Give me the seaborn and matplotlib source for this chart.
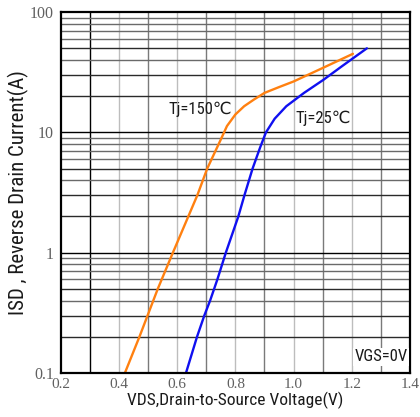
import pandas as pd
import matplotlib
matplotlib.use("Agg")
import matplotlib.pyplot as plt
from matplotlib import font_manager
import seaborn as sns

# Body-diode forward characteristic, VSD (V) vs ISD (A)
vsd_150 = [0.42, 0.47, 0.533, 0.585, 0.638, 0.669, 0.703, 0.75, 0.771, 0.8, 0.83, 0.863, 0.9, 0.95, 1.0, 1.1, 1.204]
isd_150 = [0.1, 0.2, 0.5, 1.0, 2.0, 3.0, 5.0, 8.75, 11.3, 14.1, 16.5, 18.7, 21.3, 23.8, 26.5, 34.3, 45.0]

vsd_25 = [0.63, 0.668, 0.693, 0.713, 0.738, 0.767, 0.81, 0.831, 0.859, 0.885, 0.905, 0.935, 0.975, 1.036, 1.103, 1.165, 1.252]
isd_25 = [0.1, 0.2, 0.3, 0.4, 0.6, 1.0, 2.0, 3.0, 5.0, 7.5, 10.0, 13.0, 16.5, 21.3, 27.4, 35.3, 50.0]

x_ticks = [0.2, 0.4, 0.6, 0.8, 1.0, 1.2, 1.4]
x_tick_labels = ["0.2", "0.4", "0.6", "0.8", "1.0", "1.2", "1.4"]
y_ticks = [0.1, 1, 10, 100]
y_tick_labels = ["0.1", "1", "10", "100"]

df = pd.concat([
    pd.DataFrame({"V": vsd_150, "I": isd_150, "Tj": "150"}),
    pd.DataFrame({"V": vsd_25, "I": isd_25, "Tj": "25"}),
], ignore_index=True)

sns.set_style("white")
names = {f.name for f in font_manager.fontManager.ttflist}
cond = next((n for n in ["Roboto Condensed", "PT Sans Narrow", "Archivo Narrow", "Liberation Sans Narrow"]
             if n in names), "DejaVu Sans")
serif = "Liberation Serif" if "Liberation Serif" in names else "DejaVu Serif"
plt.rcParams["font.family"] = [cond, "DejaVu Sans"]

fig = plt.figure(figsize=(4.2, 4.17), dpi=100)
ax = fig.add_axes([0.145, 0.1055, 0.831, 0.8655])

ax.set_yscale("log")
ax.set_xlim(0.2, 1.4)
ax.set_ylim(0.1, 100)

# grid: vertical every 0.1 V, horizontal on each log subdivision
for k in range(3, 14):
    v = k / 10
    if k == 3:
        c = "black"
    elif k % 2 == 1:
        c = "#7a7a7a"
    else:
        c = "#bdbdbd"
    ax.axvline(v, color=c, lw=1.0, zorder=1)
for dec in [0.1, 1, 10]:
    ax.axhline(dec, color="black", lw=1.0, zorder=1)
    for m in range(2, 10):
        c = "#2a2a2a" if m in (2, 3, 5) else "#6a6a6a"
        ax.axhline(dec * m, color=c, lw=1.0, zorder=1)

sns.lineplot(data=df, x="V", y="I", hue="Tj", palette={"150": "#ff8010", "25": "#1010f0"},
             lw=1.7, legend=False, sort=False, estimator=None, ax=ax, zorder=3)

ax.set_xticks(x_ticks)
ax.set_xticklabels(x_tick_labels)
ax.set_yticks(y_ticks)
ax.set_yticklabels(y_tick_labels)
ax.minorticks_off()
ax.tick_params(axis="x", length=0, pad=3.5, labelsize=11, labelcolor="#606060")
ax.tick_params(axis="y", length=0, pad=5, labelsize=11.5, labelcolor="#606060")
for lab in ax.get_xticklabels() + ax.get_yticklabels():
    lab.set_family(serif)

for s in ax.spines.values():
    s.set_color("black")
    s.set_linewidth(1.6)
    s.set_zorder(4)

ax.set_xlabel("VDS,Drain-to-Source Voltage(V)", fontsize=12.5, color="#1a1a1a", labelpad=0.4)
ax.set_ylabel("ISD , Reverse Drain Current(A)", fontsize=15, color="#1a1a1a", labelpad=1)

ax.text(0.679, 15.5, "Tj=150℃", fontsize=12, ha="center", va="center", color="#1a1a1a", zorder=5)
ax.text(1.1, 13.2, "Tj=25℃", fontsize=12, ha="center", va="center", color="#1a1a1a", zorder=5)
ax.text(1.3, 0.136, "VGS=0V", fontsize=12, ha="center", va="center", color="#1a1a1a", zorder=5,
        bbox=dict(facecolor="white", edgecolor="none", pad=1))

fig.savefig("out.png", dpi=100)
